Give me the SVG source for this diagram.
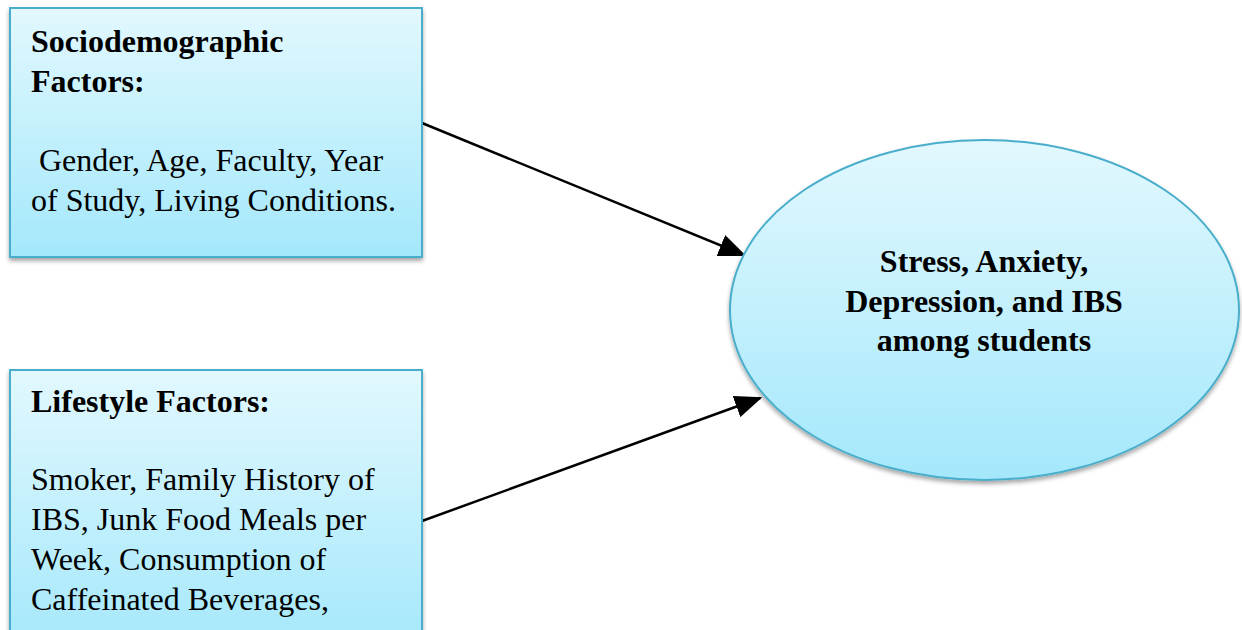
<svg xmlns="http://www.w3.org/2000/svg" width="1242" height="630" viewBox="0 0 1242 630">
<style>
.box{fill:url(#g);stroke:#4aaecb;stroke-width:2;filter:url(#sh)}
.t{font-family:"Liberation Serif","Times New Roman",serif;font-size:32px;fill:#000}
.b{font-weight:bold}
.c{text-anchor:middle}
.con{stroke:#000;stroke-width:2.5;fill:none;marker-end:url(#ah)}
</style>
<defs>
<linearGradient id="g" x1="0" y1="0" x2="0" y2="1">
<stop offset="0" stop-color="#e2f8fe"/>
<stop offset="1" stop-color="#a4e8fb"/>
</linearGradient>
<filter id="sh" x="-10%" y="-10%" width="120%" height="125%">
<feDropShadow dx="0" dy="3" stdDeviation="2" flood-color="#000" flood-opacity="0.35"/>
</filter>
<marker id="ah" markerWidth="11" markerHeight="9" refX="10" refY="4.5" orient="auto" markerUnits="strokeWidth">
<path d="M0,0 L11,4.5 L0,9 Z" fill="#000"/>
</marker>
</defs>
<rect width="1242" height="630" fill="#fff"/>
<g id="connectors">
<line class="con" x1="422" y1="123" x2="744" y2="255"/>
<line class="con" x1="422" y1="521" x2="760" y2="398"/>
</g>
<g id="node-socio">
<rect class="box" x="10" y="8" width="412" height="249"/>
<text class="t b" x="31" y="52">Sociodemographic</text>
<text class="t b" x="31" y="92">Factors:</text>
<text class="t" x="31" y="171" xml:space="preserve"> Gender, Age, Faculty, Year</text>
<text class="t" x="31" y="211">of Study, Living Conditions.</text>
</g>
<g id="node-lifestyle">
<rect class="box" x="10" y="370" width="412" height="280"/>
<text class="t b" x="31" y="412">Lifestyle Factors:</text>
<text class="t" x="31" y="490">Smoker, Family History of</text>
<text class="t" x="31" y="530">IBS, Junk Food Meals per</text>
<text class="t" x="31" y="570">Week, Consumption of</text>
<text class="t" x="31" y="610">Caffeinated Beverages,</text>
</g>
<g id="node-outcome">
<ellipse class="box" cx="984.5" cy="310" rx="254.5" ry="170"/>
<text class="t b c" x="984" y="272">Stress, Anxiety,</text>
<text class="t b c" x="984" y="312">Depression, and IBS</text>
<text class="t b c" x="984" y="351">among students</text>
</g>
</svg>
